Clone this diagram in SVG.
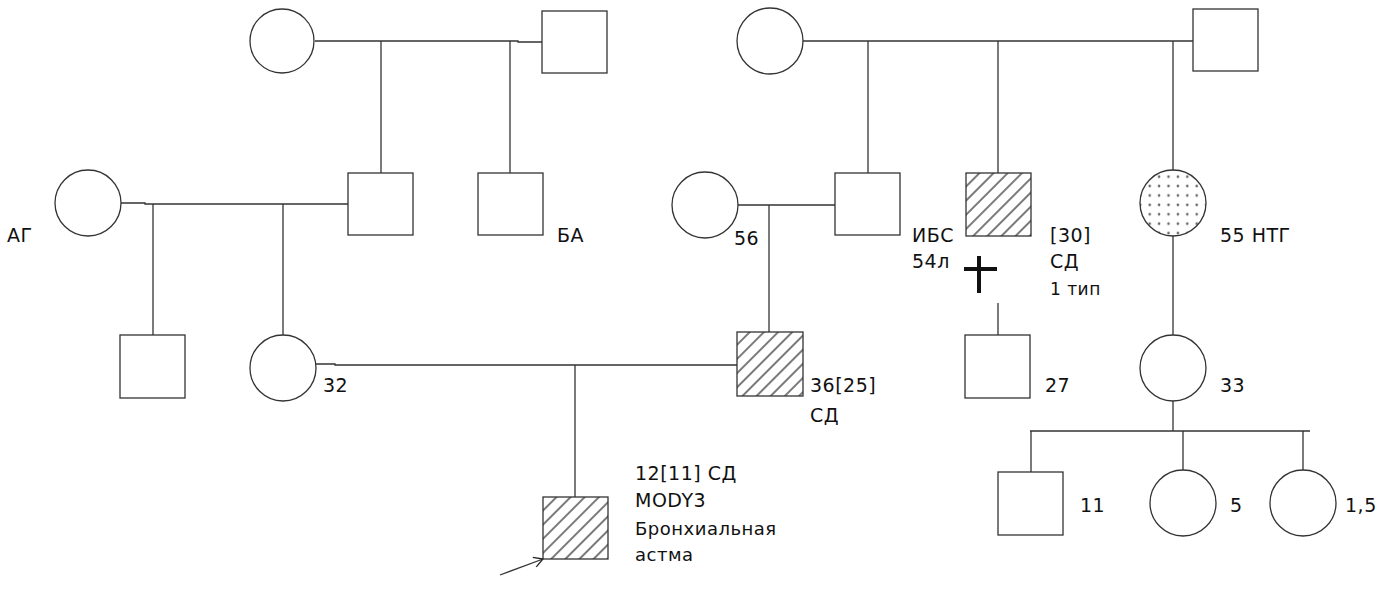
<svg xmlns="http://www.w3.org/2000/svg" width="1400" height="593" viewBox="0 0 1400 593">
<style>
.n{fill:#fff;stroke:#333;stroke-width:1.3}
.h{fill:url(#hatch);stroke:#333;stroke-width:1.3}
.d{fill:url(#dots);stroke:#333;stroke-width:1.3}
.c{fill:none;stroke:#333;stroke-width:1.3}
text{font-family:"DejaVu Sans","Liberation Sans",sans-serif;font-size:19px;letter-spacing:0.5px;fill:#111}
.s{font-size:17px}
.m{font-size:18px}
</style>
<defs>
<pattern id="hatch" width="10" height="10" patternUnits="userSpaceOnUse" patternTransform="rotate(45)">
<rect width="10" height="10" fill="#fff"/>
<line x1="5" y1="0" x2="5" y2="10" stroke="#333" stroke-width="1.3"/>
</pattern>
<pattern id="dots" width="9.4" height="9.4" patternUnits="userSpaceOnUse" x="1145" y="172">
<rect width="9.4" height="9.4" fill="#fff"/>
<circle cx="4.7" cy="4.7" r="1.3" fill="#666"/>
</pattern>
<marker id="arr" markerWidth="12" markerHeight="12" refX="10" refY="6" orient="auto" markerUnits="userSpaceOnUse">
<path d="M1,1 L10,6 L1,11" fill="none" stroke="#222" stroke-width="1.3"/>
</marker>
</defs>
<g id="connectors" class="c">
<path d="M315,41 H518 V42 H542"/>
<path d="M381,41 V173"/>
<path d="M510,41 V173"/>
<path d="M803,41 H1193"/>
<path d="M868,41 V173"/>
<path d="M998,41 V173"/>
<path d="M1173,41 V170"/>
<path d="M121,203 H145 V204 H348"/>
<path d="M153,204 V335"/>
<path d="M283,204 V335"/>
<path d="M738,205 H835"/>
<path d="M769,205 V332"/>
<path d="M998,303 V335"/>
<path d="M1173,236 V335"/>
<path d="M316,364 H335 V365 H737"/>
<path d="M575,365 V497"/>
<path d="M1173,401 V431"/>
<path d="M1030,431 H1310"/>
<path d="M1031,431 V472"/>
<path d="M1183,431 V470"/>
<path d="M1303,431 V470"/>
<path d="M500,575 L543,559" marker-end="url(#arr)"/>
</g>
<g id="gp1-f"><circle class="n" cx="282" cy="41" r="32"/></g>
<g id="gp1-m"><rect class="n" x="542" y="11" width="65" height="62"/></g>
<g id="gp2-f"><circle class="n" cx="770" cy="41" r="33"/></g>
<g id="gp2-m"><rect class="n" x="1193" y="9" width="65" height="62"/></g>
<g id="ag"><circle class="n" cx="88" cy="203" r="33"/><text x="7" y="242">АГ</text></g>
<g id="f1"><rect class="n" x="348" y="173" width="65" height="62"/></g>
<g id="ba"><rect class="n" x="478" y="173" width="65" height="62"/><text x="557" y="242">БА</text></g>
<g id="m56"><circle class="n" cx="705" cy="205" r="33"/><text x="734" y="245">56</text></g>
<g id="f2"><rect class="n" x="835" y="173" width="65" height="62"/></g>
<g id="ibs"><rect class="h" x="966" y="173" width="65" height="63"/>
<text x="912" y="242">ИБС</text><text x="912" y="268">54л</text>
<text x="1050" y="242">[30]</text><text x="1050" y="268">СД</text><text class="s" x="1050" y="295">1 тип</text>
<path d="M979,256 V293 M964,269 H997" stroke="#111" stroke-width="4" fill="none"/></g>
<g id="ntg"><circle class="d" cx="1173" cy="203" r="33"/><text x="1220" y="242">55 НТГ</text></g>
<g id="b1"><rect class="n" x="120" y="335" width="65" height="63"/></g>
<g id="m32"><circle class="n" cx="283" cy="368" r="33"/><text x="323" y="392">32</text></g>
<g id="f36"><rect class="h" x="737" y="332" width="66" height="64"/><text x="810" y="392">36[25]</text><text x="810" y="422">СД</text></g>
<g id="s27"><rect class="n" x="965" y="335" width="65" height="63"/><text x="1045" y="392">27</text></g>
<g id="c33"><circle class="n" cx="1173" cy="368" r="33"/><text x="1220" y="392">33</text></g>
<g id="proband"><rect class="h" x="543" y="497" width="65" height="62"/>
<text x="635" y="480">12[11] СД</text><text x="635" y="507">MODY3</text><text class="m" x="635" y="535">Бронхиальная</text><text class="m" x="635" y="561">астма</text></g>
<g id="s11"><rect class="n" x="998" y="472" width="65" height="63"/><text x="1080" y="512">11</text></g>
<g id="d5"><circle class="n" cx="1183" cy="503" r="33"/><text x="1230" y="512">5</text></g>
<g id="d15"><circle class="n" cx="1303" cy="503" r="33"/><text x="1345" y="512">1,5</text></g>
</svg>
